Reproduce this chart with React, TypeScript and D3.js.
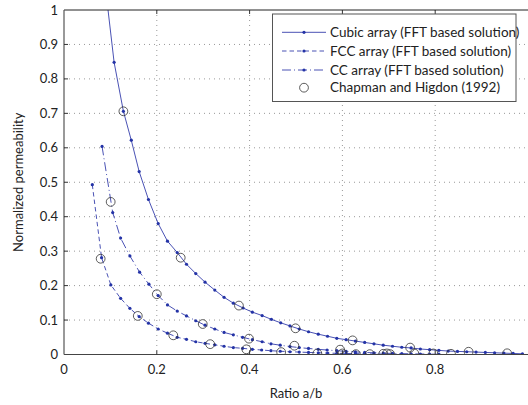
import React from "react";
import * as d3 from "d3";

const cubicX = [0.088, 0.108, 0.128, 0.145, 0.162, 0.182, 0.203, 0.223, 0.244, 0.264, 0.284, 0.304, 0.325, 0.345, 0.365, 0.386, 0.406, 0.427, 0.447, 0.467, 0.487, 0.507, 0.527, 0.548, 0.568, 0.588, 0.608, 0.628, 0.648, 0.668, 0.688, 0.708, 0.728, 0.748, 0.768, 0.788, 0.808, 0.828, 0.848, 0.868, 0.888, 0.908, 0.928, 0.948, 0.968, 0.988];
const cubicY = [1.08, 0.848, 0.706, 0.622, 0.531, 0.45, 0.38, 0.329, 0.296, 0.262, 0.235, 0.21, 0.187, 0.166, 0.149, 0.135, 0.123, 0.113, 0.102, 0.092, 0.083, 0.074, 0.066, 0.059, 0.053, 0.047, 0.043, 0.039, 0.035, 0.031, 0.027, 0.024, 0.021, 0.019, 0.016, 0.014, 0.012, 0.010, 0.009, 0.008, 0.007, 0.006, 0.005, 0.004, 0.003, 0.002];

const fccX = [0.061, 0.081, 0.101, 0.122, 0.142, 0.162, 0.182, 0.203, 0.223, 0.244, 0.264, 0.284, 0.304, 0.325, 0.345, 0.365, 0.385, 0.406, 0.426, 0.446, 0.466, 0.487, 0.507, 0.527, 0.548, 0.568, 0.588, 0.608, 0.628, 0.648, 0.668, 0.688, 0.708];
const fccY = [0.493, 0.281, 0.202, 0.163, 0.134, 0.110, 0.091, 0.074, 0.062, 0.050, 0.044, 0.037, 0.0325, 0.028, 0.024, 0.020, 0.018, 0.015, 0.013, 0.011, 0.0095, 0.008, 0.007, 0.006, 0.005, 0.004, 0.0035, 0.003, 0.0025, 0.002, 0.0015, 0.001, 0.0008];

const ccX = [0.082, 0.105, 0.122, 0.142, 0.163, 0.183, 0.203, 0.223, 0.244, 0.264, 0.284, 0.304, 0.325, 0.345, 0.365, 0.385, 0.406, 0.427, 0.446, 0.466, 0.487, 0.507, 0.527, 0.548, 0.567, 0.588, 0.608, 0.628, 0.648, 0.668, 0.688, 0.708, 0.728, 0.748, 0.768, 0.788, 0.808];
const ccY = [0.604, 0.412, 0.338, 0.286, 0.239, 0.204, 0.171, 0.144, 0.126, 0.112, 0.098, 0.085, 0.074, 0.064, 0.057, 0.050, 0.043, 0.037, 0.031, 0.027, 0.023, 0.020, 0.0175, 0.015, 0.013, 0.011, 0.009, 0.0075, 0.006, 0.005, 0.004, 0.003, 0.0025, 0.002, 0.0015, 0.001, 0.0008];

const chX = [0.128, 0.2515, 0.377, 0.499, 0.622, 0.746, 0.872, 0.955, 0.1006, 0.2, 0.299, 0.3987, 0.4965, 0.595, 0.696, 0.796, 0.079, 0.159, 0.2355, 0.315, 0.393, 0.468, 0.546, 0.600, 0.629, 0.659, 0.688, 0.703, 0.755, 0.834];
const chY = [0.706, 0.281, 0.142, 0.076, 0.041, 0.020, 0.008, 0.0035, 0.443, 0.175, 0.0885, 0.046, 0.0255, 0.014, 0.003, 0.003, 0.278, 0.112, 0.0557, 0.030, 0.015, 0.007, 0.003, 0.003, 0.001, 0.001, 0.002, 0.001, 0.003, 0.002];

const xTicks = [0, 0.2, 0.4, 0.6, 0.8];
const xTickLabels = ["0", "0.2", "0.4", "0.6", "0.8"];
const yTicks = [0, 0.1, 0.2, 0.3, 0.4, 0.5, 0.6, 0.7, 0.8, 0.9, 1];
const yTickLabels = ["0", "0.1", "0.2", "0.3", "0.4", "0.5", "0.6", "0.7", "0.8", "0.9", "1"];
const legendLabels = [
  "Cubic array (FFT based solution)",
  "FCC array (FFT based solution)",
  "CC array (FFT based solution)",
  "Chapman and Higdon (1992)",
];

const LINE = "#4a52b4";
const MARK = "#2433a6";
const FONT = "Lato, 'Open Sans', sans-serif";

export default function App() {
  const L = 64, R = 528, T = 10, B = 354.5;
  const x = d3.scaleLinear().domain([0, 1]).range([L, R]);
  const y = d3.scaleLinear().domain([0, 1]).range([B, T]);
  const line = d3.line<[number, number]>().x(d => x(d[0])).y(d => y(d[1]));
  const zip = (a: number[], b: number[]) => a.map((v, i) => [v, b[i]] as [number, number]);
  const series = [
    { pts: zip(cubicX, cubicY), dash: "none" },
    { pts: zip(fccX, fccY), dash: "4.5,3" },
    { pts: zip(ccX, ccY), dash: "9,3,1,3" },
  ];
  const lx0 = 282, lx1 = 326, ltx = 330;
  const rows = [32.3, 51, 70, 87.7];
  return (
    <svg width={528} height={405} style={{ position: "absolute", left: 0, top: 0, background: "#fff" }} fontFamily={FONT}>
      <defs>
        <clipPath id="plotclip">
          <rect x={L} y={T} width={R - L} height={B - T} />
        </clipPath>
      </defs>
      <rect x={0} y={0} width={528} height={405} fill="#fff" />
      {xTicks.filter(t => t > 0).map(t => (
        <line key={"gx" + t} x1={x(t)} x2={x(t)} y1={T} y2={B} stroke="#999" strokeWidth={1} strokeDasharray="1,4" />
      ))}
      {yTicks.filter(t => t > 0 && t < 1).map(t => (
        <line key={"gy" + t} x1={L} x2={R} y1={y(t)} y2={y(t)} stroke="#999" strokeWidth={1} strokeDasharray="1,4" />
      ))}
      <g clipPath="url(#plotclip)">
        {series.map((s, i) => (
          <path key={"s" + i} d={line(s.pts) || ""} fill="none" stroke={LINE} strokeWidth={1} strokeDasharray={s.dash} />
        ))}
        {series.map((s, i) => (
          <g key={"m" + i}>
            {s.pts.map((p, j) => (
              <circle key={j} cx={x(p[0])} cy={y(p[1])} r={1.6} fill={MARK} />
            ))}
          </g>
        ))}
        {chX.map((v, i) => (
          <circle key={"c" + i} cx={x(v)} cy={y(chY[i])} r={4.4} fill="none" stroke="#333" strokeWidth={0.8} />
        ))}
      </g>
      <line x1={L} x2={R} y1={T} y2={T} stroke="#222" strokeWidth={1} />
      <line x1={L} x2={R} y1={B} y2={B} stroke="#444" strokeWidth={1} />
      <line x1={L} x2={L} y1={T} y2={B} stroke="#555" strokeWidth={1.2} />
      {xTicks.filter(t => t > 0).map(t => (
        <g key={"xt" + t}>
          <line x1={x(t)} x2={x(t)} y1={B} y2={B - 4} stroke="#333" />
          <line x1={x(t)} x2={x(t)} y1={T} y2={T + 4} stroke="#333" />
        </g>
      ))}
      {yTicks.filter(t => t > 0 && t < 1).map(t => (
        <line key={"yt" + t} x1={L} x2={L + 4} y1={y(t)} y2={y(t)} stroke="#333" />
      ))}
      {xTicks.map((t, i) => (
        <text key={"xl" + t} x={x(t)} y={B + 19} textAnchor="middle" fontSize={13} fill="#222">{xTickLabels[i]}</text>
      ))}
      {yTicks.map((t, i) => (
        <text key={"yl" + t} x={L - 6} y={y(t) + 4.5} textAnchor="end" fontSize={13} fill="#222">{yTickLabels[i]}</text>
      ))}
      <text x={296} y={398} textAnchor="middle" fontSize={13} fill="#222">Ratio a/b</text>
      <text transform={`translate(23,${(T + B) / 2}) rotate(-90)`} textAnchor="middle" fontSize={13} fill="#222">Normalized permeability</text>
      <rect x={272.5} y={14} width={243.5} height={87.5} fill="#fff" stroke="#555" strokeWidth={1} />
      {series.map((s, i) => (
        <g key={"lg" + i}>
          <line x1={lx0} x2={lx1} y1={rows[i]} y2={rows[i]} stroke={LINE} strokeWidth={1} strokeDasharray={s.dash} />
          <circle cx={(lx0 + lx1) / 2} cy={rows[i]} r={1.6} fill={MARK} />
        </g>
      ))}
      <circle cx={(lx0 + lx1) / 2} cy={rows[3]} r={4.4} fill="none" stroke="#333" strokeWidth={0.8} />
      {legendLabels.map((t, i) => (
        <text key={"lt" + i} x={ltx} y={rows[i] + 4.5} fontSize={13.5} fill="#222">{t}</text>
      ))}
    </svg>
  );
}
